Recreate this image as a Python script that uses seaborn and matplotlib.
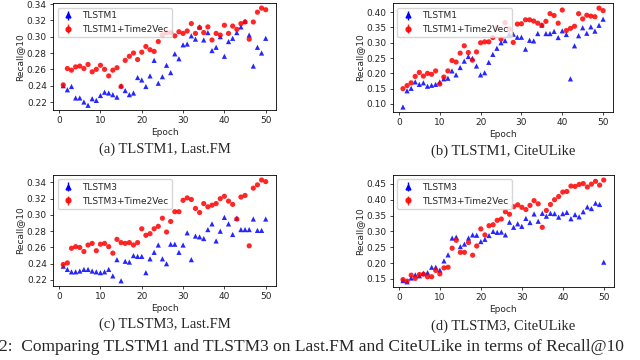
import numpy as np
import pandas as pd
import matplotlib
matplotlib.use("Agg")
import matplotlib.pyplot as plt
from matplotlib.ticker import MultipleLocator, FormatStrFormatter
import seaborn as sns

epochs = list(range(1, 51))

# (a) TLSTM1, Last.FM
a_base = [0.240, 0.235, 0.239, 0.225, 0.225, 0.220, 0.216, 0.224, 0.222, 0.228,
          0.232, 0.231, 0.229, 0.226, 0.240, 0.234, 0.229, 0.231, 0.250, 0.247,
          0.239, 0.252, 0.271, 0.243, 0.251, 0.265, 0.256, 0.279, 0.273, 0.290,
          0.291, 0.301, 0.297, 0.312, 0.296, 0.305, 0.283, 0.287, 0.300, 0.276,
          0.294, 0.298, 0.305, 0.312, 0.319, 0.302, 0.264, 0.287, 0.280, 0.298]
a_t2v = [0.241, 0.261, 0.259, 0.263, 0.264, 0.261, 0.266, 0.257, 0.260, 0.265,
         0.260, 0.252, 0.259, 0.262, 0.239, 0.271, 0.276, 0.280, 0.272, 0.281,
         0.288, 0.284, 0.282, 0.294, 0.302, 0.305, 0.305, 0.301, 0.306, 0.304,
         0.307, 0.316, 0.304, 0.311, 0.305, 0.312, 0.296, 0.304, 0.302, 0.314,
         0.304, 0.313, 0.309, 0.316, 0.318, 0.297, 0.318, 0.330, 0.335, 0.333]

# (b) TLSTM1, CiteULike
b_base = [0.090, 0.143, 0.151, 0.172, 0.164, 0.169, 0.158, 0.161, 0.164, 0.172,
          0.182, 0.184, 0.208, 0.195, 0.219, 0.240, 0.255, 0.249, 0.224, 0.195,
          0.202, 0.236, 0.262, 0.282, 0.300, 0.307, 0.328, 0.328, 0.318, 0.318,
          0.279, 0.308, 0.306, 0.330, 0.358, 0.330, 0.330, 0.337, 0.317, 0.339,
          0.327, 0.182, 0.290, 0.323, 0.349, 0.331, 0.352, 0.338, 0.357, 0.377]
b_t2v = [0.150, 0.160, 0.169, 0.190, 0.203, 0.191, 0.200, 0.197, 0.208, 0.165,
         0.188, 0.208, 0.242, 0.237, 0.266, 0.290, 0.268, 0.243, 0.270, 0.300,
         0.303, 0.303, 0.317, 0.348, 0.312, 0.366, 0.345, 0.301, 0.361, 0.362,
         0.375, 0.375, 0.371, 0.364, 0.357, 0.370, 0.395, 0.389, 0.364, 0.407,
         0.340, 0.347, 0.354, 0.395, 0.378, 0.390, 0.387, 0.385, 0.413, 0.405]

# (c) TLSTM3, Last.FM
c_base = [0.237, 0.233, 0.230, 0.230, 0.231, 0.233, 0.233, 0.231, 0.230, 0.229,
          0.230, 0.233, 0.225, 0.245, 0.219, 0.243, 0.242, 0.250, 0.249, 0.249,
          0.229, 0.246, 0.254, 0.263, 0.246, 0.240, 0.264, 0.264, 0.254, 0.263,
          0.278, 0.245, 0.274, 0.273, 0.271, 0.282, 0.289, 0.268, 0.280, 0.297,
          0.289, 0.276, 0.296, 0.282, 0.282, 0.282, 0.295, 0.281, 0.281, 0.295]
c_t2v = [0.239, 0.241, 0.259, 0.261, 0.260, 0.255, 0.263, 0.265, 0.256, 0.264,
         0.265, 0.261, 0.253, 0.270, 0.266, 0.265, 0.266, 0.263, 0.266, 0.283,
         0.275, 0.277, 0.283, 0.286, 0.296, 0.279, 0.292, 0.304, 0.304, 0.318,
         0.321, 0.319, 0.308, 0.303, 0.314, 0.310, 0.312, 0.314, 0.320, 0.323,
         0.317, 0.313, 0.295, 0.322, 0.324, 0.262, 0.333, 0.337, 0.343, 0.341]

# (d) TLSTM3, CiteULike
d_base = [0.145, 0.141, 0.153, 0.163, 0.160, 0.168, 0.170, 0.187, 0.187, 0.178,
          0.207, 0.226, 0.279, 0.282, 0.252, 0.260, 0.279, 0.289, 0.288, 0.268,
          0.275, 0.287, 0.300, 0.297, 0.298, 0.289, 0.329, 0.313, 0.324, 0.316,
          0.341, 0.328, 0.355, 0.332, 0.357, 0.348, 0.357, 0.356, 0.345, 0.356,
          0.360, 0.340, 0.353, 0.346, 0.362, 0.377, 0.372, 0.389, 0.385, 0.203]
d_t2v = [0.148, 0.143, 0.162, 0.152, 0.164, 0.165, 0.157, 0.157, 0.177, 0.166,
         0.185, 0.187, 0.247, 0.272, 0.234, 0.234, 0.265, 0.225, 0.254, 0.308,
         0.289, 0.318, 0.321, 0.335, 0.339, 0.362, 0.354, 0.378, 0.384, 0.376,
         0.369, 0.382, 0.397, 0.387, 0.313, 0.366, 0.385, 0.400, 0.410, 0.424,
         0.426, 0.443, 0.442, 0.448, 0.451, 0.440, 0.449, 0.458, 0.446, 0.462]

# model, series, caption, axes rect, y tick step
panels = [
    ("TLSTM1", a_base, a_t2v, "(a) TLSTM1, Last.FM", [0.083, 0.694, 0.348, 0.297], 0.02),
    ("TLSTM1", b_base, b_t2v, "(b) TLSTM1, CiteULike", [0.614, 0.689, 0.344, 0.302], 0.05),
    ("TLSTM3", c_base, c_t2v, "(c) TLSTM3, Last.FM", [0.083, 0.206, 0.348, 0.308], 0.02),
    ("TLSTM3", d_base, d_t2v, "(d) TLSTM3, CiteULike", [0.614, 0.203, 0.345, 0.311], 0.05),
]

sns.set_style("ticks")
plt.rcParams["font.family"] = ["DejaVu Sans"]

fig = plt.figure(figsize=(6.4, 3.6), dpi=100)

for model, base, t2v, caption, rect, ystep in panels:
    ax = fig.add_axes(rect)
    name2 = model + "+Time2Vec"
    df = pd.DataFrame({
        "Epoch": epochs * 2,
        "Recall@10": base + t2v,
        "model": [model] * len(base) + [name2] * len(t2v),
    })
    sns.scatterplot(data=df, x="Epoch", y="Recall@10", hue="model", style="model",
                    palette={model: "blue", name2: "red"},
                    markers={model: "^", name2: "o"},
                    s=14, linewidth=0, alpha=0.85, ax=ax, legend=False)
    h1 = ax.errorbar([], [], yerr=[], fmt="^", color="blue", ms=3.5, elinewidth=1)
    h2 = ax.errorbar([], [], yerr=[], fmt="o", color="red", ms=3.5, elinewidth=1, alpha=0.85)
    ax.legend([h1, h2], [model, name2], loc="upper left", fontsize=6.5,
              frameon=True, handlelength=1.5, borderpad=0.4, labelspacing=0.5)
    ax.set_xticks([0, 10, 20, 30, 40, 50])
    ax.yaxis.set_major_locator(MultipleLocator(ystep))
    ax.yaxis.set_major_formatter(FormatStrFormatter("%.2f"))
    ax.tick_params(labelsize=6.5, length=2.5, width=0.6, pad=2)
    ax.set_xlabel("Epoch", fontsize=6.5, labelpad=2)
    ax.set_ylabel("Recall@10", fontsize=6.5, labelpad=2)
    for sp in ax.spines.values():
        sp.set_linewidth(0.6)
        sp.set_color("black")
    cx = rect[0] + rect[2] / 2
    fig.text(cx, rect[1] - 0.108, caption, ha="center", va="center",
             fontsize=10.5, family="Liberation Serif")

fig.text(-0.002, 0.036, "2:  Comparing TLSTM1 and TLSTM3 on Last.FM and CiteULike in terms of Recall@10",
         ha="left", va="center", fontsize=12.5, family="Liberation Serif")

fig.savefig("out.png", dpi=100)
